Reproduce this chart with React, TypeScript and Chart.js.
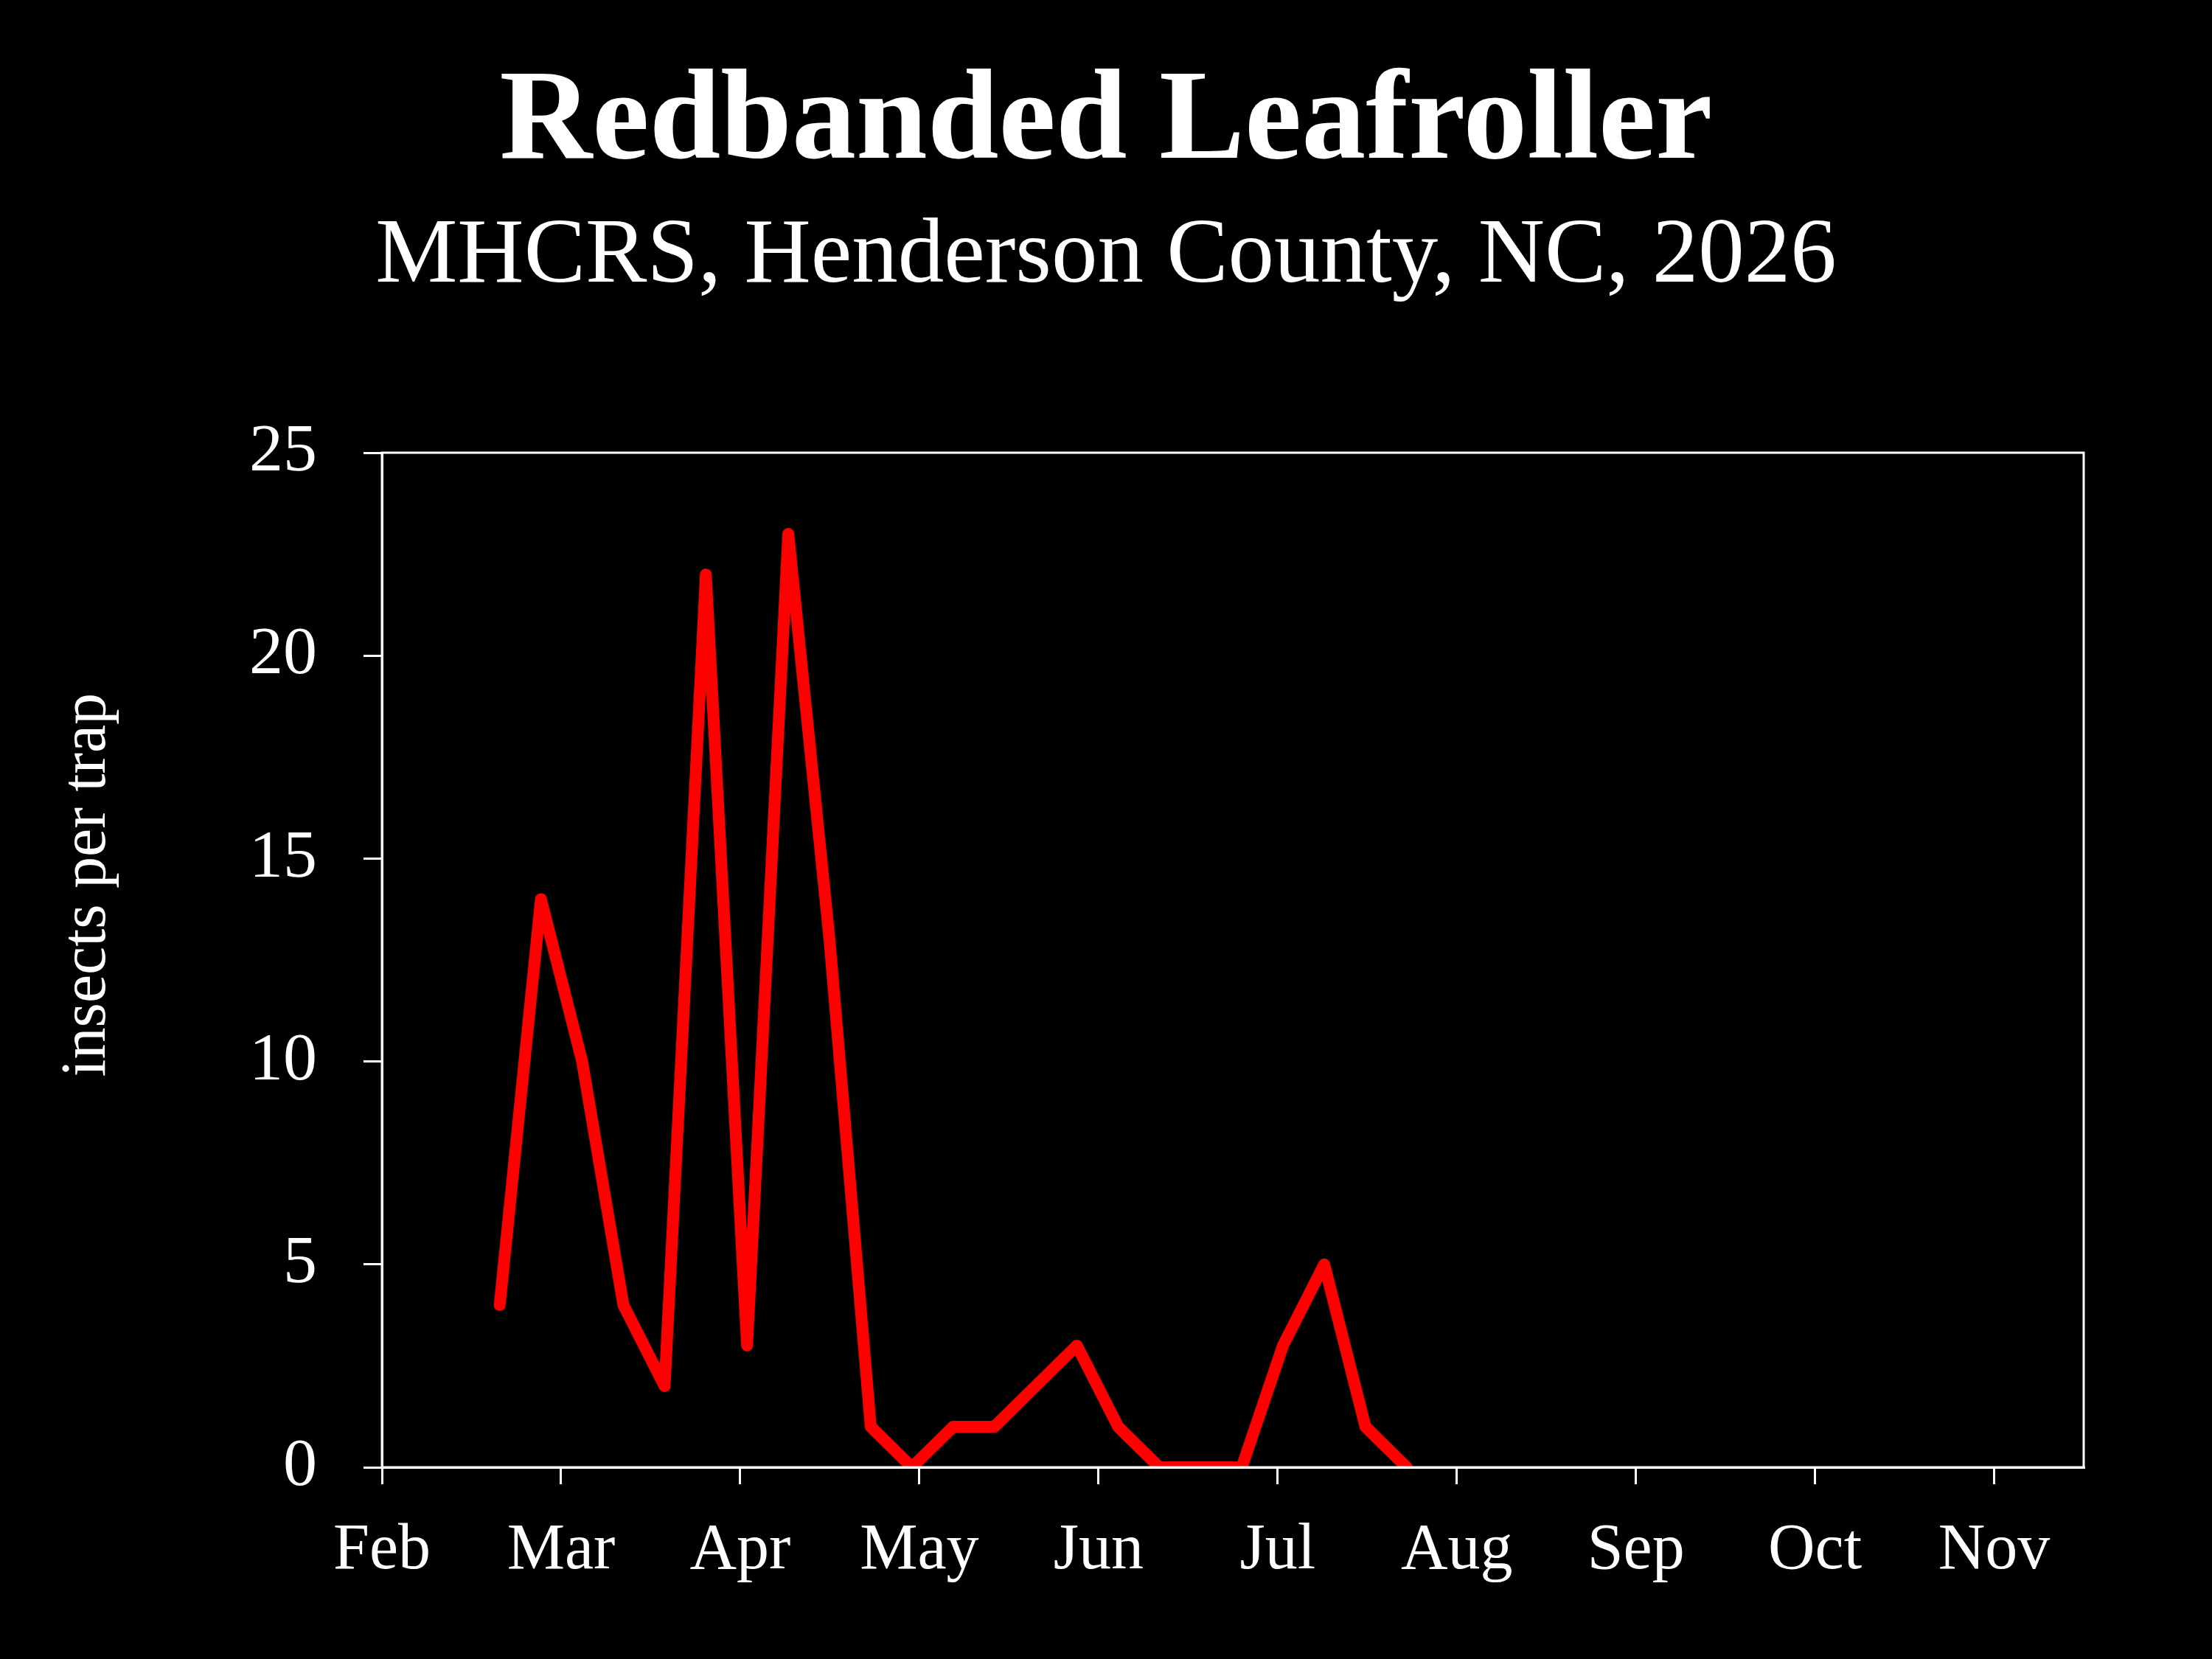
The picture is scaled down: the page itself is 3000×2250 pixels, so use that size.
import React, { useEffect, useRef } from "react";
import { Chart, registerables } from "chart.js";

Chart.register(...registerables);

const TITLE = "Redbanded Leafroller";
const SUBTITLE = "MHCRS, Henderson County, NC, 2026";
const Y_TITLE = "insects per trap";
const MONTH_LABELS = ["Feb", "Mar", "Apr", "May", "Jun", "Jul", "Aug", "Sep", "Oct", "Nov"];
const DAYS_PER_MONTH = 365 / 12;
const AXIS_END_MONTHS = 9.5;
// days after Feb 1 of each weekly trap check
const SAMPLE_DAY = [20, 27, 34, 41, 48, 55, 62, 69, 76, 83, 90, 97, 104, 111, 118, 125, 132, 139, 146, 153, 160, 167, 174];
const INSECTS_PER_TRAP = [4, 14, 10, 4, 2, 22, 3, 23, 13, 1, 0, 1, 1, 2, 3, 1, 0, 0, 0, 3, 5, 1, 0];
const Y_MIN = 0;
const Y_MAX = 25;
const Y_STEP = 5;

const FONT = "'Liberation Serif', 'Times New Roman', serif";

export default function App() {
  const ref = useRef<HTMLCanvasElement>(null);

  useEffect(() => {
    const canvas = ref.current;
    if (!canvas) return;

    const framePlugin = {
      id: "frame",
      afterDatasetsDraw(chart: any) {
        const { ctx, chartArea: a } = chart;
        ctx.save();
        ctx.strokeStyle = "#ffffff";
        ctx.lineWidth = 3;
        ctx.strokeRect(a.left, a.top, a.right - a.left, a.bottom - a.top);
        ctx.restore();
      },
    };

    const yTitlePlugin = {
      id: "yTitle",
      afterDraw(chart: any) {
        const { ctx, chartArea: a } = chart;
        ctx.save();
        ctx.fillStyle = "#ffffff";
        ctx.font = `86px ${FONT}`;
        ctx.textAlign = "center";
        ctx.textBaseline = "middle";
        ctx.translate(119, a.top + (a.bottom - a.top) * 0.426);
        ctx.rotate(-Math.PI / 2);
        ctx.fillText(Y_TITLE, 0, 0);
        ctx.restore();
      },
    };

    const chart = new Chart(canvas, {
      type: "line",
      data: {
        datasets: [
          {
            data: SAMPLE_DAY.map((d, i) => ({ x: d, y: INSECTS_PER_TRAP[i] })),
            borderColor: "#ff0000",
            backgroundColor: "#ff0000",
            borderWidth: 16,
            pointRadius: 0,
            tension: 0,
            borderJoinStyle: "round",
            borderCapStyle: "round",
            clip: 0,
          } as any,
        ],
      },
      options: {
        animation: false,
        responsive: false,
        devicePixelRatio: 1,
        layout: { padding: 0 },
        plugins: {
          legend: { display: false },
          tooltip: { enabled: false },
          title: {
            display: true,
            text: TITLE,
            color: "#ffffff",
            font: { family: FONT, size: 174, weight: "bold", lineHeight: 1 },
            padding: { top: 82, bottom: 0 },
          },
          subtitle: {
            display: true,
            text: SUBTITLE,
            color: "#ffffff",
            font: { family: FONT, size: 125, weight: "normal", lineHeight: 1 },
            padding: { top: 31, bottom: 202 },
          },
        },
        scales: {
          x: {
            type: "linear",
            min: 0,
            max: AXIS_END_MONTHS * DAYS_PER_MONTH,
            afterBuildTicks: (s: any) => {
              s.ticks = MONTH_LABELS.map((_, i) => ({ value: i * DAYS_PER_MONTH }));
            },
            afterFit: (s: any) => {
              s.height = 260;
            },
            ticks: {
              callback: (_v: any, i: number) => MONTH_LABELS[i],
              color: "#ffffff",
              font: { family: FONT, size: 88, lineHeight: 1 },
              padding: 47,
              autoSkip: false,
              maxRotation: 0,
            },
            grid: {
              drawOnChartArea: false,
              drawTicks: true,
              tickLength: 23,
              color: "#ffffff",
              lineWidth: 3,
            },
            border: { color: "#ffffff", width: 3 },
          },
          y: {
            type: "linear",
            position: "left",
            min: Y_MIN,
            max: Y_MAX,
            afterFit: (s: any) => {
              s.width = 518;
            },
            ticks: {
              stepSize: Y_STEP,
              color: "#ffffff",
              font: { family: FONT, size: 92, lineHeight: 1 },
              padding: 63,
            },
            grid: {
              drawOnChartArea: false,
              drawTicks: true,
              tickLength: 25,
              color: "#ffffff",
              lineWidth: 3,
            },
            border: { color: "#ffffff", width: 3 },
          },
          y2: {
            type: "linear",
            position: "right",
            display: true,
            afterFit: (s: any) => {
              s.width = 174;
            },
            ticks: { display: false },
            grid: { display: false },
            border: { display: false },
          },
        },
      } as any,
      plugins: [framePlugin, yTitlePlugin],
    });

    return () => chart.destroy();
  }, []);

  return (
    <div
      style={{
        position: "fixed",
        left: 0,
        top: 0,
        width: 3000,
        height: 2250,
        background: "#000000",
      }}
    >
      <canvas
        ref={ref}
        width={3000}
        height={2250}
        style={{ width: 3000, height: 2250, display: "block" }}
      />
    </div>
  );
}
